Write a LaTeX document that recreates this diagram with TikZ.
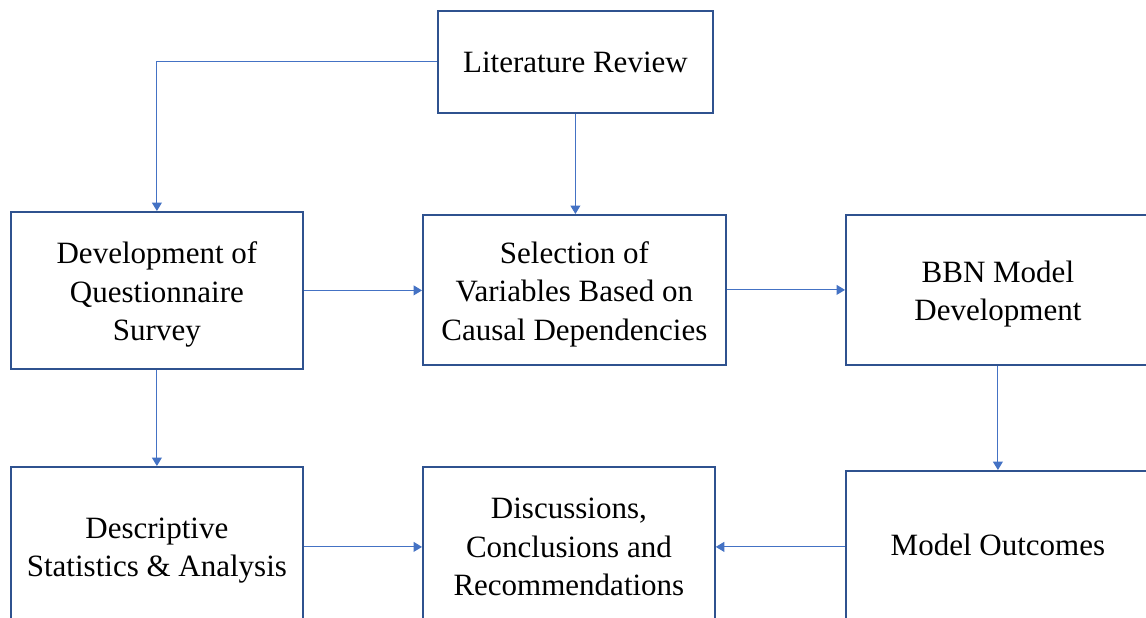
\documentclass[tikz,border=0pt]{standalone}
\usepackage{fontspec}
\setmainfont{Liberation Serif}
\usetikzlibrary{arrows.meta}
\definecolor{boxblue}{HTML}{2F528F}
\definecolor{linkblue}{HTML}{4472C4}
% taller first line, so that a stage's text sits a little lower in its box
\newcommand{\stagestrut}{\rule{0pt}{30pt}}
\begin{document}
\begin{tikzpicture}[x=1pt,y=-1pt,
  stage/.style={draw=boxblue, line width=1.8pt, fill=white, align=center,
    inner sep=0pt, anchor=north west, font=\fontsize{31}{38.5}\selectfont},
  link/.style={draw=linkblue, line width=1pt,
    -{Triangle[width=10pt,length=8.5pt]}}]
  \useasboundingbox (0,0) rectangle (1146,618);
  \clip (0,0) rectangle (1146,618);

  % process stages
  \node[stage, minimum width=275, minimum height=102] (lit) at (437,10) {Literature Review};
  \node[stage, minimum width=292, minimum height=157] (quest) at (10,211)
    {\stagestrut Development of\\Questionnaire\\Survey};
  \node[stage, minimum width=303, minimum height=150] (sel) at (422,214)
    {\stagestrut Selection of\\Variables Based on\\Causal Dependencies};
  \node[stage, minimum width=304, minimum height=150] (bbn) at (845,214)
    {\stagestrut BBN Model\\Development};
  \node[stage, minimum width=292, minimum height=160] (desc) at (10,466)
    {\rule{0pt}{28pt}Descriptive\\Statistics \& Analysis};
  \node[stage, minimum width=292, minimum height=160] (disc) at (422,466)
    {Discussions,\\Conclusions and\\Recommendations};
  \node[stage, minimum width=304, minimum height=148] (out) at (845,470)
    {Model Outcomes};

  % flow between stages
  \draw[link] (lit.west) -| (quest.north);
  \draw[link] (lit.south) -- (lit.south |- sel.north);
  \draw[link] (quest.east) -- (quest.east -| sel.west);
  \draw[link] (sel.east) -- (sel.east -| bbn.west);
  \draw[link] (quest.south) -- (desc.north);
  \draw[link] (bbn.south) -- (out.north);
  \draw[link] (desc.east) -- (desc.east -| disc.west);
  \draw[link] (out.west |- desc.east) -- (desc.east -| disc.east);
\end{tikzpicture}
\end{document}
